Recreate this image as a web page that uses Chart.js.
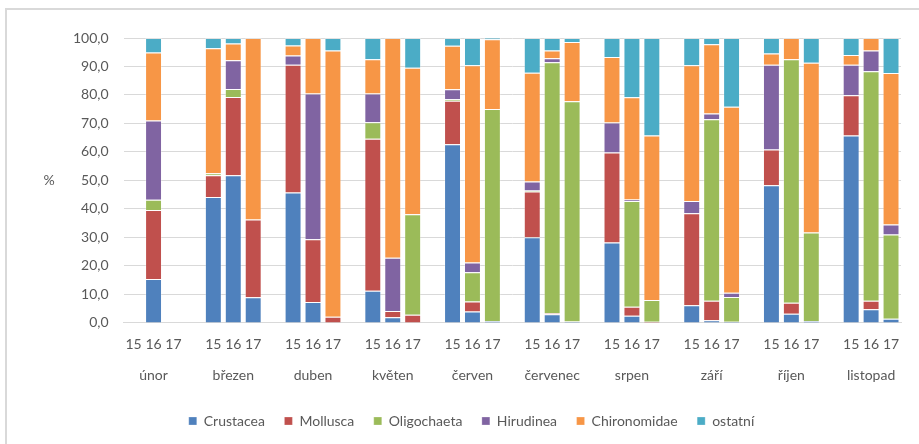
<!DOCTYPE html>
<html>
<head>
<meta charset="utf-8">
<script src="https://cdn.jsdelivr.net/npm/chart.js@4/dist/chart.umd.min.js"></script>
<style>
  html, body { margin: 0; padding: 0; background: #fff; }
  #frame {
    position: absolute; left: 5px; top: 8px; width: 914px; height: 436px;
    border-left: 2px solid #d9d9d9; border-top: 2px solid #d9d9d9;
  }
  #chart { position: absolute; left: 0; top: 0; }
</style>
</head>
<body>
<div id="frame"></div>
<canvas id="chart" width="919" height="444"></canvas>
<script>
// months and years (each month has bars for 2015, 2016, 2017)
const months = ["únor", "březen", "duben", "květen", "červen", "červenec", "srpen", "září", "říjen", "listopad"];
const years = ["15", "16", "17"];
const yTicks = [0, 10, 20, 30, 40, 50, 60, 70, 80, 90, 100];

// share in % per month x year (15, 16, 17)
const crustacea = [
  null, 15.4, null,  44.2, 51.8, 9.0,  45.8, 7.3, 0,  11.3, 2.0, 0,  62.7, 4.0, 0.7,
  30.1, 3.0, 0.5,  28.2, 2.5, 0,  6.2, 0.9, 0.4,  48.3, 3.2, 0.7,  65.8, 4.8, 1.5
];
const mollusca = [
  null, 24.2, null,  7.6, 27.5, 27.3,  44.8, 22.1, 2.2,  53.3, 2.2, 2.9,  15.3, 3.5, 0,
  16.0, 0.4, 0,  31.6, 3.2, 0.4,  32.3, 6.9, 0,  12.6, 3.9, 0,  14.1, 3.0, 0
];
const oligochaeta = [
  null, 3.6, null,  0.7, 2.8, 0,  0, 0, 0,  5.8, 0, 35.2,  0.5, 10.3, 74.4,
  0.4, 88.1, 77.3,  0, 37.1, 7.6,  0, 63.7, 8.7,  0, 85.4, 31.0,  0, 80.5, 29.5
];
const hirudinea = [
  null, 27.8, null,  0, 10.1, 0,  3.3, 51.1, 0,  10.1, 18.7, 0,  3.5, 3.4, 0,
  3.1, 1.4, 0,  10.5, 0.5, 0,  4.3, 2.0, 1.5,  29.7, 0, 0,  10.7, 7.3, 3.5
];
const chironomidae = [
  null, 23.9, null,  43.9, 5.9, 63.7,  3.5, 19.5, 93.4,  12.0, 77.1, 51.5,  15.3, 69.2, 24.5,
  38.2, 2.7, 20.8,  23.0, 35.9, 57.8,  47.6, 24.3, 65.3,  4.0, 7.5, 59.6,  3.4, 4.4, 53.2
];
const ostatni = [
  null, 5.1, null,  3.6, 1.9, 0,  2.6, 0, 4.4,  7.5, 0, 10.4,  2.7, 9.6, 0.4,
  12.2, 4.4, 1.4,  6.7, 20.8, 34.2,  9.6, 2.2, 24.1,  5.4, 0, 8.7,  6.0, 0, 12.3
];

const seriesNames = ["Crustacea", "Mollusca", "Oligochaeta", "Hirudinea", "Chironomidae", "ostatní"];
const seriesColors = ["#4f81bd", "#c0504d", "#9bbb59", "#8064a2", "#f79646", "#4bacc6"];
const seriesData = [crustacea, mollusca, oligochaeta, hirudinea, chironomidae, ostatni];

// build slots: 3 years per month, one empty slot between months
const yearLabels = [];
const monthLabels = [];
const slotIndex = [];
months.forEach((m, mi) => {
  years.forEach((y, yi) => {
    yearLabels.push(y);
    monthLabels.push(yi === 1 ? m : "");
    slotIndex.push(mi * 3 + yi);
  });
  if (mi < months.length - 1) {
    yearLabels.push("");
    monthLabels.push("");
    slotIndex.push(-1);
  }
});

const textColor = "#595959";
const gridColor = "#d9d9d9";
const font = { family: "Lato", size: 14 };

const percentLabel = {
  id: "percentLabel",
  afterDraw(chart) {
    const ctx = chart.ctx;
    const y = chart.scales.y.getPixelForValue(50);
    ctx.save();
    ctx.fillStyle = textColor;
    ctx.font = "14px Lato";
    ctx.textAlign = "center";
    ctx.textBaseline = "middle";
    ctx.fillText("%", 49, y);
    ctx.restore();
  }
};

new Chart(document.getElementById("chart"), {
  type: "bar",
  data: {
    labels: yearLabels,
    datasets: seriesNames.map((name, i) => ({
      label: name,
      data: slotIndex.map((s) => (s < 0 ? null : seriesData[i][s])),
      backgroundColor: seriesColors[i],
      borderColor: "rgba(255,255,255,0.25)",
      borderWidth: 1,
      categoryPercentage: 1,
      barPercentage: 0.85,
      xAxisID: "x",
      yAxisID: "y"
    }))
  },
  options: {
    responsive: false,
    animation: false,
    layout: { padding: { left: 42, top: 38, right: 18, bottom: 6 } },
    plugins: {
      legend: {
        position: "bottom",
        labels: {
          color: textColor,
          font: font,
          boxWidth: 8,
          boxHeight: 8,
          padding: 19.5
        }
      },
      tooltip: { enabled: false }
    },
    scales: {
      x: {
        stacked: true,
        grid: { display: false, drawTicks: false },
        border: { color: gridColor, width: 1 },
        ticks: { color: textColor, font: font, autoSkip: false, maxRotation: 0, padding: 13 }
      },
      x2: {
        type: "category",
        labels: monthLabels,
        position: "bottom",
        offset: true,
        grid: { display: false, drawTicks: false },
        border: { display: false },
        ticks: { color: textColor, font: font, autoSkip: false, maxRotation: 0, padding: 1 },
        afterFit: (axis) => { axis.height += 10; }
      },
      y: {
        stacked: true,
        min: 0,
        max: 100,
        grid: { color: gridColor, lineWidth: 1, drawTicks: false },
        border: { display: false },
        afterBuildTicks: (axis) => { axis.ticks = yTicks.map((v) => ({ value: v })); },
        afterFit: (axis) => { axis.width += 16; },
        ticks: {
          color: textColor,
          font: font,
          padding: 15,
          callback: (value) => value.toFixed(1).replace(".", ",")
        }
      }
    }
  },
  plugins: [percentLabel]
});
</script>
</body>
</html>
